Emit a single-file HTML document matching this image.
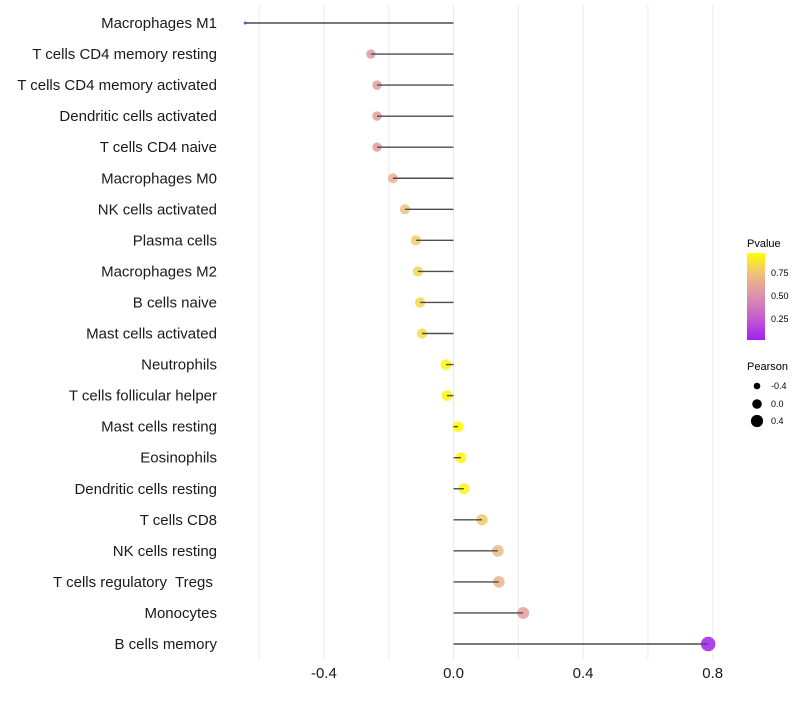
<!DOCTYPE html>
<html><head><meta charset="utf-8"><style>
body{margin:0;background:#fff;}
svg text{font-family:"Liberation Sans",Arial,sans-serif;white-space:pre;}
</style></head><body>
<svg id="chart" width="800" height="700">
<defs><linearGradient id="pg" x1="0" y1="1" x2="0" y2="0">
<stop offset="0" stop-color="#a020f0"/><stop offset="0.25" stop-color="#c65ccf"/><stop offset="0.5" stop-color="#dc8fae"/><stop offset="0.75" stop-color="#efbd7f"/><stop offset="1" stop-color="#ffff00"/></linearGradient></defs>
<g id="grid"></g><g id="marks"></g><g id="labels"></g>
<g>
<text x="747" y="247" font-size="11" fill="#000">Pvalue</text>
<rect x="747" y="253" width="18" height="87" fill="url(#pg)"/>
<text x="771" y="276" font-size="9">0.75</text>
<text x="771" y="299" font-size="9">0.50</text>
<text x="771" y="322" font-size="9">0.25</text>
</g>
<g>
<text x="747" y="370" font-size="11">Pearson</text>
<circle cx="757" cy="386" r="3.3"/><text x="771" y="389" font-size="9">-0.4</text>
<circle cx="757" cy="404" r="4.8"/><text x="771" y="407" font-size="9">0.0</text>
<circle cx="757" cy="421" r="6.1"/><text x="771" y="424" font-size="9">0.4</text>
</g>
</svg>
<script>
const categories=["Macrophages M1","T cells CD4 memory resting","T cells CD4 memory activated","Dendritic cells activated","T cells CD4 naive","Macrophages M0","NK cells activated","Plasma cells","Macrophages M2","B cells naive","Mast cells activated","Neutrophils","T cells follicular helper","Mast cells resting","Eosinophils","Dendritic cells resting","T cells CD8","NK cells resting","T cells regulatory  Tregs ","Monocytes","B cells memory"];
const pearson=[-0.643,-0.255,-0.236,-0.236,-0.236,-0.187,-0.15,-0.116,-0.11,-0.103,-0.097,-0.023,-0.02,0.014,0.023,0.032,0.088,0.137,0.14,0.215,0.786];
const pvalue=[0.02,0.55,0.58,0.58,0.58,0.68,0.75,0.82,0.83,0.85,0.86,0.97,0.97,0.99,0.97,0.96,0.8,0.72,0.7,0.6,0.0];
const xticks=[-0.4,0.0,0.4,0.8];
const gridVals=[-0.6,-0.4,-0.2,0,0.2,0.4,0.6,0.8];
const NS="http://www.w3.org/2000/svg";
const x=v=>453.5+v*324;
const y=i=>23+i*31.05;
function r(v){let a;if(v<-0.25)a=2+(v+0.65)/0.4*20;else a=22+(v+0.25)/1.05*31;return Math.sqrt(Math.max(1.5,a));}
const stops=[[0,[160,32,240]],[0.25,[198,92,207]],[0.5,[220,143,174]],[0.75,[239,189,127]],[1,[255,255,0]]];
function col(p){for(let k=0;k<stops.length-1;k++){const a=stops[k],b=stops[k+1];if(p<=b[0]){const t=(p-a[0])/(b[0]-a[0]);return "rgb("+a[1].map((c,j)=>Math.round(c+(b[1][j]-c)*t)).join(",")+")";}}return "rgb(255,255,0)";}
function mk(tag,at,parent){const e=document.createElementNS(NS,tag);for(const k in at)e.setAttribute(k,at[k]);document.getElementById(parent).appendChild(e);return e;}
gridVals.forEach(v=>{const l=mk("line",{x1:x(v),x2:x(v),y1:5,y2:660,stroke:"#ebebeb","stroke-width":1},"grid");

});
xticks.forEach(v=>{const t=mk("text",{x:x(v),y:678,"text-anchor":"middle","font-size":15,fill:"#1a1a1a"},"labels");t.textContent=v.toFixed(1);

});
categories.forEach((c,i)=>{
const t=mk("text",{x:217,y:y(i)+5,"text-anchor":"end","font-size":15,fill:"#1a1a1a"},"labels");t.textContent=c;


const d=mk("circle",{cx:x(pearson[i]),cy:y(i),r:r(pearson[i]),fill:col(pvalue[i]),"fill-opacity":0.85},"marks");


const s=mk("line",{x1:x(0),x2:x(pearson[i]),y1:y(i),y2:y(i),stroke:"#4d4d4d","stroke-width":1.4},"marks");


});
</script>
</body></html>
